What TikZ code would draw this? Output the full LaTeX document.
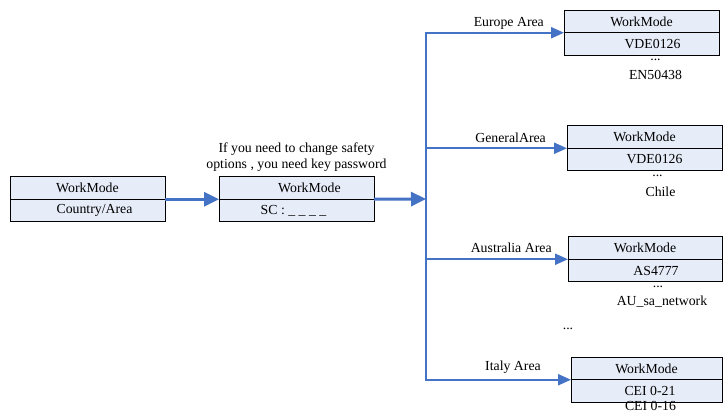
\documentclass[tikz,border=0pt]{standalone}
\usepackage{fontspec}
\setmainfont{Liberation Serif}
\usepackage{tikz}
\usetikzlibrary{arrows.meta,positioning}
\definecolor{cellblue}{RGB}{230,236,248}
\definecolor{linkblue}{RGB}{68,114,196}
\tikzset{
  cell/.style   = {rectangle, draw=black, fill=cellblue, line width=0.9pt,
                   text centered, minimum height=22.5pt, minimum width=155pt,
                   inner sep=0pt, outer sep=0pt},
  note/.style   = {inner sep=1pt},
  lab/.style    = {inner sep=0pt, text depth=0pt},
  marr/.style   = {-{Triangle[length=15pt,width=14pt]}, line width=3pt, draw=linkblue},
  barr/.style   = {-{Triangle[length=13pt,width=11pt]}, line width=2.2pt, draw=linkblue},
}

\begin{document}
\begin{tikzpicture}[x=1pt, y=-1pt, font=\fontsize{13.8}{16}\selectfont]
\useasboundingbox (0,0) rectangle (723,415);

%% Country/Area selection
\node[cell] (wm) at (87.5,188) {WorkMode};
\node[cell, below=0pt of wm] (wm-sub) {\hspace*{14pt}Country/Area};

%% Safety code
\node[cell] (sc) at (296.5,188) {\hspace*{26pt}WorkMode};
\node[cell, below=0pt of sc] (sc-sub) {SC : \_ \_ \_ \_\hspace*{6pt}};
\node[note, above=4pt of sc, align=center] (pw)
  {If you need to change safety\\options , you need key password};

\coordinate (hub) at (426,199);

%% Europe
\node[cell] (eu) at (641.5,21.5) {WorkMode};
\node[cell, below=0pt of eu] (eu-sub) {\hspace*{22pt}VDE0126};
\node[note, below=3pt of eu-sub, xshift=14pt] (eu-dots) {...};
\node[note, below=7pt of eu-dots] (eu-last) {EN50438};

%% General
\node[cell] (ga) at (644.5,137) {WorkMode};
\node[cell, below=0pt of ga] (ga-sub) {\hspace*{20pt}VDE0126};
\node[note, below=3pt of ga-sub, xshift=13pt] (ga-dots) {...};
\node[note, below=8pt of ga-dots, xshift=3pt] (ga-last) {Chile};

%% Australia
\node[cell, minimum width=154pt] (au) at (645,248) {WorkMode};
\node[cell, minimum width=154pt, below=0pt of au] (au-sub) {\hspace*{22pt}AS4777};
\node[note, below=3pt of au-sub, xshift=13pt] (au-dots) {...};
\node[note, below=6pt of au-dots, xshift=4pt] (au-last) {AU\_sa\_network};

\node[note] (more) at (568,329) {...};

%% Italy
\node[cell, minimum width=151pt] (it) at (646.5,368.5) {WorkMode};
\node[cell, minimum width=151pt, below=0pt of it, text depth=-3pt] (it-sub) {\hspace*{7pt}CEI 0-21};
\node[note, below=-1pt of it-sub, xshift=4pt, inner sep=0pt] (it-last) {CEI 0-16};

\draw[marr] (wm.south east) -- (sc.south west);
\draw[marr] (sc.south east) -- (hub);
\draw[barr] (hub) |- node[lab, pos=0.8, above=5pt] {Europe Area} (eu.south west);
\draw[barr] (hub) |- node[lab, pos=0.8, above=5pt] {GeneralArea} (ga.south west);
\draw[barr] (hub) |- node[lab, pos=0.8, above=6pt] {Australia Area} (au.south west);
\draw[barr] (hub) |- node[lab, pos=0.8, above=8pt] {Italy Area} (it.south west);

\end{tikzpicture}
\end{document}
